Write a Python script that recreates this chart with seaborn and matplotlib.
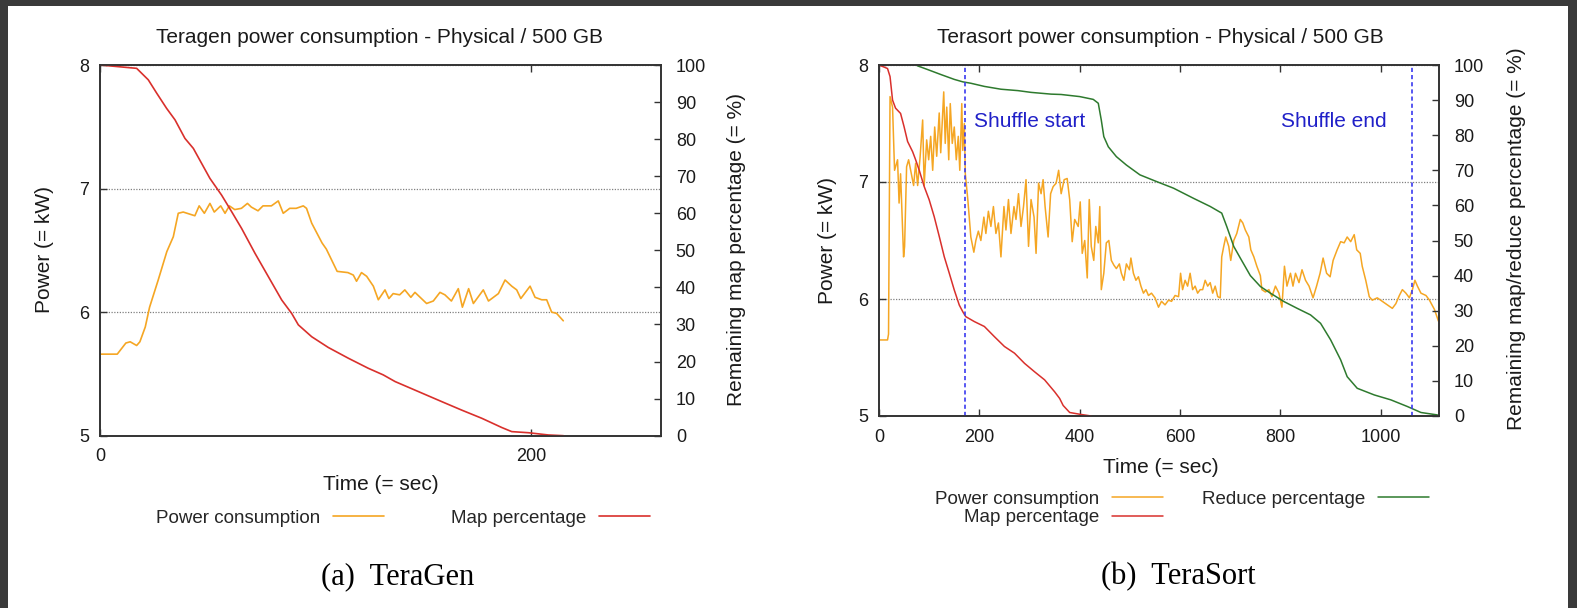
import matplotlib
matplotlib.use('Agg')
import matplotlib.pyplot as plt
import pandas as pd
import seaborn as sns

# ---- TeraGen (a) ----
tg_power_t = [0, 8, 12, 14, 17, 18.5, 21, 23, 27, 31,
              34, 36.3, 38.6, 44, 46, 48.4, 51, 53, 56, 58,
              60, 62.5, 65.6, 68.4, 70.2, 73.3, 75.6, 79.5, 82.7, 85,
              88, 91, 94.3, 95.8, 98.2, 103, 105, 107.5, 110, 115,
              117.5, 119, 121.3, 123.7, 126.8, 129.1, 132.2, 134, 136, 139,
              141.4, 144.2, 146.1, 151.5, 154.6, 157.7, 160, 163, 166.2, 168.1,
              171, 173.2, 177.8, 180.2, 184.8, 187.9, 191, 193.3, 195.2, 199.5,
              201.8, 204.9, 207.2, 209.5, 211.8, 214.9]
tg_power = [5.66, 5.66, 5.75, 5.76, 5.73, 5.76, 5.88, 6.04, 6.26, 6.49,
            6.61, 6.80, 6.81, 6.78, 6.86, 6.80, 6.88, 6.81, 6.86, 6.80,
            6.86, 6.83, 6.84, 6.88, 6.85, 6.82, 6.86, 6.86, 6.90, 6.80,
            6.84, 6.84, 6.86, 6.84, 6.72, 6.56, 6.51, 6.42, 6.33, 6.32,
            6.30, 6.25, 6.32, 6.29, 6.21, 6.10, 6.18, 6.11, 6.15, 6.14,
            6.18, 6.12, 6.16, 6.07, 6.09, 6.16, 6.14, 6.09, 6.19, 6.04,
            6.19, 6.07, 6.18, 6.09, 6.15, 6.26, 6.21, 6.18, 6.11, 6.21,
            6.12, 6.10, 6.10, 6.00, 5.99, 5.93]
tg_map_t = [0, 17, 22.4, 26.3, 30.9, 34.8, 39.4, 43.3, 47.1, 51,
            56.4, 61.1, 65.7, 71.9, 78.1, 84.3, 88.9, 92, 98.2, 105.9,
            115.2, 124.4, 131.4, 136.9, 146.1, 158.5, 167.8, 177.1, 186.4, 191,
            198.8, 207.9, 215]
tg_map = [100, 99.1, 96, 92.4, 88.3, 85.2, 80.2, 77.5, 73.5, 69.4,
          64.9, 60.4, 55.9, 49.2, 42.9, 36.6, 33, 29.9, 26.7, 23.8,
          20.9, 18.2, 16.4, 14.6, 12.3, 9.2, 6.9, 4.7, 2.2, 1.1,
          0.8, 0.2, 0]

# ---- TeraSort (b) ----
ts_power_t = [0, 17, 19, 22, 27, 31, 37, 40, 43, 49,
              51, 55, 59, 63, 69, 73, 77, 82, 87, 90,
              95, 99, 103, 107, 111, 115, 120, 123, 129, 132,
              135, 139, 142, 146, 150, 154, 158, 161, 165, 167,
              170, 172, 177, 183, 189, 193, 198, 203, 209, 213,
              218, 223, 228, 233, 238, 243, 249, 253, 258, 263,
              269, 273, 278, 283, 288, 293, 298, 303, 309, 313,
              318, 323, 327, 331, 337, 342, 347, 353, 358, 363,
              369, 375, 380, 385, 390, 397, 401, 405, 410, 415,
              419, 423, 428, 432, 437, 440, 443, 448, 453, 458,
              463, 468, 473, 479, 483, 488, 493, 499, 502, 507,
              512, 517, 522, 527, 532, 537, 543, 550, 557, 563,
              570, 577, 583, 590, 597, 601, 605, 610, 615, 620,
              625, 630, 635, 640, 645, 650, 655, 660, 665, 670,
              675, 680, 683, 687, 691, 697, 701, 707, 713, 720,
              725, 730, 737, 741, 747, 753, 760, 763, 770, 777,
              783, 790, 797, 803, 808, 813, 820, 825, 830, 837,
              843, 850, 857, 865, 872, 879, 885, 892, 899, 905,
              913, 920, 927, 933, 940, 947, 952, 959, 963, 970,
              977, 983, 993, 1003, 1013, 1023, 1030, 1037, 1043, 1050,
              1057, 1063, 1068, 1073, 1080, 1090, 1097, 1107, 1115]
ts_power = [5.65, 5.65, 5.70, 7.73, 7.64, 7.10, 7.19, 6.82, 7.07, 6.36,
            6.45, 7.13, 7.19, 7.10, 6.97, 7.16, 6.97, 7.22, 7.53, 6.97,
            7.36, 7.19, 7.39, 7.10, 7.47, 7.22, 7.59, 7.25, 7.77, 7.33,
            7.64, 7.19, 7.67, 7.33, 7.47, 7.19, 7.39, 7.10, 7.67, 7.27,
            7.50, 7.07, 6.85, 6.53, 6.40, 6.50, 6.58, 6.50, 6.70, 6.56,
            6.75, 6.62, 6.79, 6.56, 6.65, 6.36, 6.79, 6.59, 6.85, 6.56,
            6.79, 6.68, 6.90, 6.62, 6.79, 7.02, 6.45, 6.85, 6.70, 6.39,
            6.99, 6.90, 7.02, 6.79, 6.53, 6.90, 6.96, 6.99, 7.10, 6.90,
            7.02, 7.03, 6.85, 6.49, 6.68, 6.62, 6.83, 6.39, 6.50, 6.18,
            6.85, 6.45, 6.33, 6.62, 6.48, 6.79, 6.08, 6.22, 6.48, 6.50,
            6.33, 6.29, 6.26, 6.30, 6.22, 6.16, 6.30, 6.25, 6.35, 6.22,
            6.16, 6.19, 6.11, 6.05, 6.08, 6.03, 6.05, 6.01, 5.93, 5.98,
            5.95, 5.99, 5.98, 6.03, 6.02, 6.22, 6.08, 6.16, 6.11, 6.22,
            6.08, 6.11, 6.05, 6.08, 6.08, 6.16, 6.11, 6.14, 6.05, 6.11,
            6.02, 6.01, 6.36, 6.45, 6.53, 6.45, 6.33, 6.50, 6.56, 6.68,
            6.65, 6.59, 6.53, 6.42, 6.36, 6.28, 6.20, 6.08, 6.06, 6.08,
            6.02, 6.11, 6.05, 5.93, 6.28, 6.11, 6.22, 6.11, 6.22, 6.14,
            6.25, 6.16, 6.11, 6.01, 6.11, 6.22, 6.35, 6.22, 6.19, 6.33,
            6.42, 6.49, 6.48, 6.53, 6.49, 6.55, 6.42, 6.39, 6.28, 6.16,
            6.02, 5.99, 6.01, 5.98, 5.95, 5.92, 5.96, 6.03, 6.08, 6.05,
            6.01, 6.08, 6.16, 6.11, 6.05, 6.03, 5.99, 5.91, 5.81]
ts_map_t = [0, 17, 22, 27, 33, 43, 50, 57, 67, 73,
            80, 90, 100, 110, 120, 130, 140, 150, 160, 167,
            173, 190, 210, 230, 250, 270, 290, 310, 330, 350,
            360, 367, 380, 400, 423]
ts_map = [100, 99, 96.7, 90, 87.7, 86.2, 82.4, 78.2, 75.3, 73,
          70.1, 65.4, 61.6, 56.8, 51.2, 45.4, 40.7, 35.9, 31.6, 29.7,
          28.3, 26.9, 25.5, 22.6, 19.8, 17.9, 15, 12.6, 10.3, 6.9,
          5.0, 3.0, 1.0, 0.5, 0]
ts_reduce_t = [76, 97, 123, 150, 167, 183, 210, 243, 277, 303,
               343, 363, 400, 427, 437, 443, 448, 457, 473, 493,
               520, 553, 587, 627, 660, 683, 693, 707, 720, 740,
               760, 780, 807, 833, 860, 880, 900, 920, 933, 953,
               987, 1020, 1053, 1080, 1113]
ts_reduce = [99.8, 98.7, 97.3, 95.9, 95.2, 94.8, 93.9, 93.1, 92.7, 92.2,
             91.7, 91.6, 91, 90.2, 89.1, 84.3, 79.6, 76.7, 73.9, 71.5,
             68.7, 66.8, 64.9, 62, 59.7, 57.8, 54, 48.3, 45, 40,
             36.9, 35, 32.6, 30.7, 28.8, 26.4, 21.7, 16, 11.2, 7.9,
             6, 4.6, 2.7, 1, 0.3]
shuffle_start, shuffle_end = 171, 1062

ORANGE = '#f5a623'
RED = '#d9302c'
GREEN = '#2e7a2e'
BLUE = '#3b3bf0'
INK = '#1a1a1a'

sns.set_theme(style='white')
plt.rcParams['font.family'] = ['Liberation Sans', 'DejaVu Sans']

W, H = 1577, 608
fig = plt.figure(figsize=(W / 100, H / 100), dpi=100, facecolor='#3a3a3a')
fig.patches.append(plt.Rectangle((8 / W, 0), (W - 17) / W, (H - 6) / H,
                                 transform=fig.transFigure, facecolor='white',
                                 edgecolor='none', zorder=-1))


def px_axes(x0, y0, x1, y1):
    return fig.add_axes([x0 / W, 1 - y1 / H, (x1 - x0) / W, (y1 - y0) / H])


def style(ax, ax2, xticks, xmax):
    ax.set_xlim(0, xmax)
    ax.set_ylim(5, 8)
    ax2.set_ylim(0, 100)
    ax.set_xticks(xticks)
    ax.set_yticks([5, 6, 7, 8])
    ax2.set_yticks(range(0, 101, 10))
    ax.set_xlabel('')
    ax.set_ylabel('')
    ax2.set_ylabel('')
    for a in (ax, ax2):
        for s in a.spines.values():
            s.set_color('#333333')
            s.set_linewidth(1.2)
    ax.tick_params(axis='x', top=True, bottom=True, direction='in', length=5,
                   width=1, color='#333333', labelsize=13, labelcolor=INK, pad=9)
    ax.tick_params(axis='y', left=True, right=False, direction='in', length=5,
                   width=1, color='#333333', labelsize=13, labelcolor=INK, pad=8)
    ax2.tick_params(axis='y', right=True, direction='in', length=5,
                    width=1, color='#333333', labelsize=13, labelcolor=INK, pad=11)
    ax.yaxis.grid(True, linestyle=(0, (1, 1.2)), color='#808080', linewidth=0.9)
    ax.xaxis.grid(False)
    ax2.grid(False)
    for a in (ax, ax2):
        if a.get_legend() is not None:
            a.get_legend().remove()


# ---- panel (a) ----
ax_a = px_axes(100, 65, 660.5, 435.7)
ax_a2 = ax_a.twinx()
df_tg_p = pd.DataFrame({'t': tg_power_t, 'kw': tg_power})
df_tg_m = pd.DataFrame({'t': tg_map_t, 'pct': tg_map})
sns.lineplot(data=df_tg_p, x='t', y='kw', ax=ax_a, color=ORANGE, linewidth=1.2,
             estimator=None, label='Power consumption')
sns.lineplot(data=df_tg_m, x='t', y='pct', ax=ax_a2, color=RED, linewidth=1.2,
             estimator=None, label='Map percentage')
style(ax_a, ax_a2, [0, 200], 260)

# ---- panel (b) ----
ax_b = px_axes(879, 65, 1438.5, 416)
ax_b2 = ax_b.twinx()
df_ts_p = pd.DataFrame({'t': ts_power_t, 'kw': ts_power})
df_ts_m = pd.DataFrame({'t': ts_map_t, 'pct': ts_map})
df_ts_r = pd.DataFrame({'t': ts_reduce_t, 'pct': ts_reduce})
sns.lineplot(data=df_ts_p, x='t', y='kw', ax=ax_b, color=ORANGE, linewidth=1.1,
             estimator=None, label='Power consumption')
sns.lineplot(data=df_ts_m, x='t', y='pct', ax=ax_b2, color=RED, linewidth=1.1,
             estimator=None, label='Map percentage')
sns.lineplot(data=df_ts_r, x='t', y='pct', ax=ax_b2, color=GREEN, linewidth=1.1,
             estimator=None, label='Reduce percentage')
for xv in (shuffle_start, shuffle_end):
    ax_b2.axvline(xv, color=BLUE, linestyle=(0, (2.5, 1.8)), linewidth=1.2)
ax_b.text(190, 7.52, 'Shuffle start', color='#2020c8', fontsize=15, va='center')
ax_b.text(802, 7.52, 'Shuffle end', color='#2020c8', fontsize=15, va='center')
style(ax_b, ax_b2, [0, 200, 400, 600, 800, 1000], 1115)

# ---- titles, labels ----
fig.text(380 / W, 1 - 43 / H, 'Teragen power consumption - Physical / 500 GB',
         ha='center', va='baseline', fontsize=15, color=INK)
fig.text(1160 / W, 1 - 43 / H, 'Terasort power consumption - Physical / 500 GB',
         ha='center', va='baseline', fontsize=15, color=INK)
fig.text(381 / W, 1 - 490 / H, 'Time (= sec)', ha='center', va='baseline',
         fontsize=15, color=INK)
fig.text(1161 / W, 1 - 473 / H, 'Time (= sec)', ha='center', va='baseline',
         fontsize=15, color=INK)
fig.text(45 / W, 1 - 250 / H, 'Power (= kW)', rotation=90, ha='center',
         va='center', fontsize=15, color=INK)
fig.text(827 / W, 1 - 240.5 / H, 'Power (= kW)', rotation=90, ha='center',
         va='center', fontsize=15, color=INK)
fig.text(736 / W, 1 - 250 / H, 'Remaining map percentage (= %)', rotation=90,
         ha='center', va='center', fontsize=15, color=INK)
fig.text(1517 / W, 1 - 239 / H, 'Remaining map/reduce percentage (= %)',
         rotation=90, ha='center', va='center', fontsize=15, color=INK)

# ---- legends (gnuplot style: text then sample) ----
h_a = ax_a.get_lines()[:1] + ax_a2.get_lines()[:1]
fig.legend(h_a, ['Power consumption', 'Map percentage'], ncol=2,
           markerfirst=False, frameon=False, loc='center',
           bbox_to_anchor=(403 / W, 1 - 518 / H), fontsize=13.5,
           handlelength=2.7, handletextpad=0.67, columnspacing=3.6)
h_b = ax_b.get_lines()[:1] + ax_b2.get_lines()[:2]
fig.legend(h_b, ['Power consumption', 'Map percentage', 'Reduce percentage'],
           ncol=2, markerfirst=False, frameon=False, loc='center',
           bbox_to_anchor=(1182 / W, 1 - 508.5 / H), fontsize=13.5,
           handlelength=2.7, handletextpad=0.67, columnspacing=2.1,
           labelspacing=0.05)

# ---- captions ----
fig.text(398 / W, 1 - 584 / H, '(a)  TeraGen', ha='center', va='baseline',
         fontsize=22, family=['Liberation Serif', 'DejaVu Serif'], color='black')
fig.text(1178 / W, 1 - 584 / H, '(b)  TeraSort', ha='center', va='baseline',
         fontsize=22, family=['Liberation Serif', 'DejaVu Serif'], color='black')

fig.savefig('out.png', dpi=100, facecolor=fig.get_facecolor())
